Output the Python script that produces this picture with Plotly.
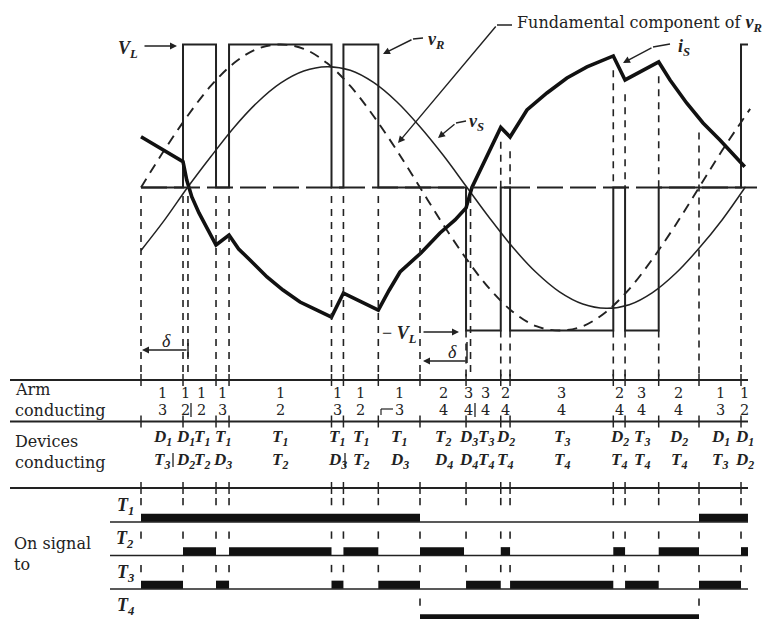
import numpy as np
import plotly.graph_objects as go

W, H = 771, 619
X0_PX, PX_PER_DEG = 141.0, 1.55      # time axis: 0 deg sits at x = 141 px
AXIS_PX, PX_PER_UNIT = 187.5, 143.0   # waveform panel: zero line and one V_L in px
ROW0_PX, ROW_STEP_PX = 522.0, 33.5    # baselines of the gate-signal rows

INK = "#222222"
SERIF = "DejaVu Serif, serif"
MATH = "Liberation Serif, Times New Roman, serif"

# ---------------- data ----------------
# bridge voltage v_R in units of V_L: switching angles (deg) and level held from each angle on
vr_angle = [0, 27.1, 48.4, 56.8, 122.9, 130.6, 153.1, 209.7, 232.1, 238.1,
            304.7, 312.3, 334.0, 387.1, 391.6]
vr_level = [0, 1, 0, 1, 0, 1, 0, -1, 0, -1, 0, -1, 0, 1, 1]

# fundamental component of v_R
fund_angle = [0, 15, 30, 45, 60, 75, 90, 105, 120, 135, 150, 165, 180, 195, 210,
              225, 240, 255, 270, 285, 300, 315, 330, 345, 360, 375, 393]
fund_value = [0, 0.26, 0.5, 0.71, 0.87, 0.97, 1.0, 0.97, 0.87, 0.71, 0.5, 0.26, 0,
              -0.26, -0.5, -0.71, -0.87, -0.97, -1.0, -0.97, -0.87, -0.71, -0.5,
              -0.26, 0, 0.26, 0.55]

# supply voltage v_S
vs_angle = [0, 15, 30, 45, 60, 75, 90, 105, 120, 135, 150, 165, 180, 195, 210,
            225, 240, 255, 270, 285, 300, 315, 330, 345, 360, 375, 390]
vs_value = [-0.44, -0.23, 0, 0.215, 0.42, 0.595, 0.73, 0.815, 0.845, 0.82, 0.735,
            0.6, 0.425, 0.225, 0.005, -0.215, -0.42, -0.595, -0.73, -0.815, -0.845,
            -0.82, -0.735, -0.6, -0.425, -0.225, 0.005]

# supply current i_S
is_angle = [0, 27.1, 29.5, 32.8, 37.4, 48.4, 56.8, 63.0, 70.3, 81.3, 91.6, 102.6,
            113.5, 122.9, 130.6, 153.1, 160.0, 167.1, 180.6, 192.9, 202.6, 209.7,
            213.5, 232.1, 238.1, 249.0, 261.9, 274.8, 287.7, 304.7, 312.3, 334.0,
            341.3, 352.0, 362.6, 373.5, 389.5]
is_value = [0.355, 0.18, 0.052, -0.066, -0.178, -0.402, -0.332, -0.43, -0.507,
            -0.626, -0.717, -0.801, -0.857, -0.906, -0.738, -0.857, -0.72, -0.591,
            -0.458, -0.318, -0.227, -0.143, 0.0, 0.42, 0.353, 0.542, 0.661, 0.766,
            0.843, 0.92, 0.752, 0.878, 0.752, 0.591, 0.451, 0.332, 0.145]

# interval boundaries of the conduction table
tick_angle = [0, 27.1, 48.4, 56.8, 122.9, 130.6, 153.1, 180, 209.7, 232.1, 238.1,
              304.7, 312.3, 334.0, 360, 387.1]
is_zero_angle = [30.3, 212.6]

arm_top = ["1", "1", "1", "1", "1", "1", "1", "1", "2", "3", "3", "2", "3", "2", "3", "2", "1", "1"]
arm_bot = ["3", "2", "2", "3", "2", "3", "2", "3", "4", "4", "4", "4", "4", "4", "4", "4", "3", "2"]
dev_top = ["D1", "D1", "T1", "T1", "T1", "T1", "T1", "T1", "T2", "D3", "T3", "D2",
           "T3", "D2", "T3", "D2", "D1", "D1"]
dev_bot = ["T3", "D2", "T2", "D3", "T2", "D3", "T2", "D3", "D4", "D4", "T4", "T4",
           "T4", "T4", "T4", "T4", "T3", "D2"]

# on-signal intervals (deg) for each switch
signal_names = ["T1", "T2", "T3", "T4"]
signal_on = [
    [(0, 180), (360, 391.6)],
    [(27.1, 48.4), (56.8, 122.9), (130.6, 153.1), (180, 208.4), (232.1, 238.1),
     (304.7, 312.3), (334.0, 360), (387.1, 391.6)],
    [(0, 27.1), (48.4, 56.8), (122.9, 130.6), (153.1, 180), (209.7, 232.1),
     (238.1, 304.7), (312.3, 334.0), (360, 387.1)],
    [(180, 360)],
]

# ---------------- helpers ----------------
def px_x(px):
    return px / W


def px_y(px):
    return 1 - px / H


def deg(px):
    return (px - X0_PX) / PX_PER_DEG


def unit(px):
    return (AXIS_PX - px) / PX_PER_UNIT


def sym(s):
    return f"<b><i>{s[0]}<sub>{s[1]}</sub></i></b>"


def level_at(a):
    held = [lv for e, lv in zip(vr_angle[:-1], vr_level[:-1]) if e <= a]
    return held[-1] if held else vr_level[0]


def current_at(a):
    return float(np.interp(a, is_angle, is_value))


fig = go.Figure()
shapes = []
annotations = []


def seg(x0, y0, x1, y1, xref="paper", yref="paper", width=1.5, dash=None):
    line = dict(color=INK, width=width)
    if dash:
        line["dash"] = dash
    shapes.append(dict(type="line", xref=xref, yref=yref, x0=x0, y0=y0, x1=x1, y1=y1,
                       line=line, layer="above"))


def pseg(p0, p1, width=1.5):
    seg(px_x(p0[0]), px_y(p0[1]), px_x(p1[0]), px_y(p1[1]), width=width)


def arrow(tail, tip, width=1.4, size=1.0):
    annotations.append(dict(x=px_x(tip[0]), y=px_y(tip[1]), xref="paper", yref="paper",
                            ax=tail[0] - tip[0], ay=tail[1] - tip[1], text="",
                            showarrow=True, arrowhead=2, arrowsize=size,
                            arrowwidth=width, arrowcolor=INK, standoff=0))


def text(t, x, y, xref="paper", size=16, family=SERIF, xanchor="center"):
    annotations.append(dict(text=t, x=x, y=y, xref=xref, yref="paper", showarrow=False,
                            font=dict(family=family, size=size, color=INK),
                            xanchor=xanchor, yanchor="middle"))


# ---------------- waveform panel ----------------
seg(0, 0, deg(757), 0, xref="x", yref="y", width=1.8, dash="26px,7px")

fig.add_trace(go.Scatter(x=fund_angle, y=fund_value, mode="lines",
                         line=dict(color=INK, width=1.9, dash="10px,7px", shape="spline")))
fig.add_trace(go.Scatter(x=vs_angle, y=vs_value, mode="lines",
                         line=dict(color=INK, width=1.5, shape="spline")))
fig.add_trace(go.Scatter(x=vr_angle, y=vr_level, mode="lines",
                         line=dict(color=INK, width=2.0, shape="hv")))
fig.add_trace(go.Scatter(x=is_angle, y=is_value, mode="lines",
                         line=dict(color="#111111", width=3.6)))

# dashed projection lines from the waveforms down to the table
table_top = unit(378)
for a in sorted(tick_angle + is_zero_angle):
    cur = current_at(a)
    neg = min(level_at(a - 0.01), level_at(a + 0.01)) == -1
    if a in is_zero_angle:
        parts = [(-0.06, table_top)]
    elif neg:
        parts = [(-1, table_top)]
        if cur > 0:
            parts.append((cur - 0.1, 0))
    elif cur > 0.3 and a > 0:
        parts = [(cur - 0.1, table_top)]
    else:
        parts = [(-0.06, table_top)]
    for y0, y1 in parts:
        seg(a, y0, a, y1, xref="x", yref="y", width=1.6, dash="7px,6px")

# labels and leaders
text(sym("VL"), px_x(128), px_y(49), family=MATH, size=18)
arrow((143, 46), (177, 46))

text(sym("vR"), px_x(426), px_y(40), family=MATH, size=18, xanchor="left")
pseg((423, 38), (413, 39))
arrow((413, 39), (383, 54))

text(f"Fundamental component of <span style='font-family:{MATH};font-size:18px'>"
     f"{sym('vR')}</span>", px_x(515), px_y(23), size=16, xanchor="left")
pseg((512, 25), (497, 25))
arrow((497, 25), (398, 143))

text(sym("vS"), px_x(467), px_y(122), family=MATH, size=18, xanchor="left")
pseg((466, 121), (456, 123))
arrow((456, 123), (438, 138))

text(sym("iS"), px_x(676), px_y(47), family=MATH, size=18, xanchor="left")
pseg((670, 44), (653, 47))
arrow((653, 47), (623, 63))

text("− " + sym("VL"), px_x(419), px_y(334), family=MATH, size=18, xanchor="right")
arrow((422, 332), (459, 332))

text("<i>δ</i>", px_x(166), px_y(341), family=MATH, size=18)
arrow((188, 350), (142, 350))
pseg((188, 343), (188, 357))

text("<i>δ</i>", px_x(452), px_y(352), family=MATH, size=18)
arrow((467, 361), (423, 361))
pseg((467, 342), (467, 363))

# ---------------- conduction table ----------------
for ypx in (380, 421.5, 488):
    pseg((10, ypx), (748, ypx), width=1.8)
    for a in tick_angle:
        seg(a, px_y(ypx - 6), a, px_y(ypx + 6), xref="x", width=1.5)

text("Arm", px_x(13), px_y(389), xanchor="left")
text("conducting", px_x(13), px_y(410), xanchor="left")
text("Devices", px_x(13), px_y(441), xanchor="left")
text("conducting", px_x(13), px_y(462), xanchor="left")

bounds = sorted(tick_angle + is_zero_angle)
centers = [(bounds[i] + bounds[i + 1]) / 2 for i in range(len(bounds) - 1)] + [bounds[-1] + 2]
for c, at, ab, dt, db in zip(centers, arm_top, arm_bot, dev_top, dev_bot):
    text(at, c, px_y(393), xref="x", size=14.5)
    text(ab, c, px_y(410), xref="x", size=14.5)
    text(sym(dt), c, px_y(438), xref="x", family=MATH, size=17)
    text(sym(db), c, px_y(461), xref="x", family=MATH, size=17)

# divider strokes inside the label rows
for xpx, ypx in ((191, 410), (475, 410), (173, 460), (345, 460)):
    pseg((xpx, ypx - 7), (xpx, ypx + 7), width=1.3)
pseg((381, 409), (393, 409), width=1.2)
pseg((381, 409), (381, 415), width=1.2)

# ---------------- on-signal rows ----------------
text("On signal", px_x(12), px_y(543), xanchor="left")
text("to", px_x(12), px_y(564), xanchor="left")

for k, (name, spans) in enumerate(zip(signal_names, signal_on)):
    text(sym(name), px_x(125), px_y(ROW0_PX + ROW_STEP_PX * k - 16), family=MATH, size=18)
    fig.add_trace(go.Scatter(x=[deg(110), deg(748)], y=[k, k], yaxis="y2", mode="lines",
                             line=dict(color=INK, width=1.5)))
    xs, ys = [], []
    for a0, a1 in spans:
        xs += [a0, a1, None]
        ys += [k - 0.13, k - 0.13, None]
    fig.add_trace(go.Scatter(x=xs, y=ys, yaxis="y2", mode="lines",
                             line=dict(color="#111111", width=8)))
    for a in tick_angle:
        if k < 3 or a in (180, 360):
            seg(a, k - 0.72, a, k - 0.5, xref="x", yref="y2", width=1.6)

fig.update_layout(
    width=W, height=H, autosize=False, margin=dict(l=0, r=0, t=0, b=0),
    paper_bgcolor="white", plot_bgcolor="white", showlegend=False,
    xaxis=dict(range=[deg(0), deg(W)], visible=False),
    yaxis=dict(range=[unit(H), unit(0)], visible=False),
    yaxis2=dict(range=[(H - ROW0_PX) / ROW_STEP_PX, -ROW0_PX / ROW_STEP_PX],
                overlaying="y", visible=False),
    shapes=shapes, annotations=annotations,
)

fig.write_html("out.html")
